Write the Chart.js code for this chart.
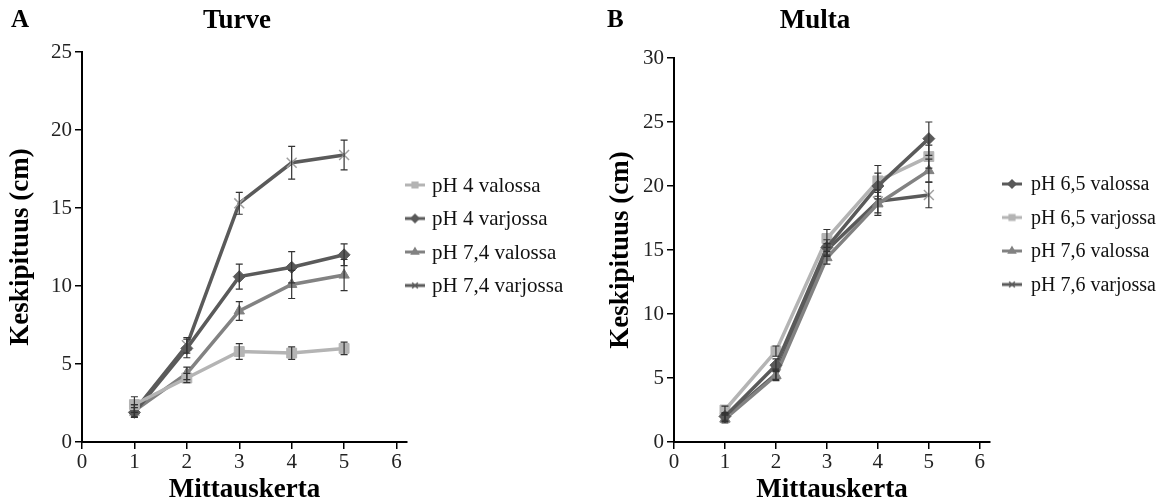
<!DOCTYPE html>
<html lang="fi">
<head>
<meta charset="UTF-8">
<title>Turve ja Multa</title>
<script src="https://cdn.jsdelivr.net/npm/chart.js"></script>
<style>
    body { margin: 0; background: #fff; }
    #wrap { position: relative; width: 1174px; height: 502px; }
    .panel { position: absolute; top: 0; width: 587px; height: 502px; }
</style>
</head>
<body>
<div id="wrap">
    <div class="panel" style="left:0"><canvas id="turve"></canvas></div>
    <div class="panel" style="left:587px"><canvas id="multa"></canvas></div>
</div>
<script>
// mittauskerrat
const mittaukset = [1, 2, 3, 4, 5];
const xTicks = [0, 1, 2, 3, 4, 5, 6];

// A: Turve
const turveNimet = ['pH 4 valossa', 'pH 4 varjossa', 'pH 7,4 valossa', 'pH 7,4 varjossa'];
const turvePh4Valossa = [2.4, 4.1, 5.8, 5.7, 6.0];
const turvePh4ValossaVirhe = [0.5, 0.3, 0.5, 0.4, 0.4];
const turvePh4Varjossa = [1.9, 6.0, 10.6, 11.2, 12.0];
const turvePh4VarjossaVirhe = [0.3, 0.6, 0.8, 1.0, 0.7];
const turvePh74Valossa = [2.0, 4.4, 8.4, 10.1, 10.7];
const turvePh74ValossaVirhe = [0.4, 0.4, 0.6, 0.9, 1.0];
const turvePh74Varjossa = [2.0, 6.2, 15.3, 17.9, 18.4];
const turvePh74VarjossaVirhe = [0.4, 0.5, 0.7, 1.05, 0.95];
const turveYTicks = [0, 5, 10, 15, 20, 25];

// B: Multa
const multaNimet = ['pH 6,5 valossa', 'pH 6,5 varjossa', 'pH 7,6 valossa', 'pH 7,6 varjossa'];
const multaPh65Valossa = [2.0, 6.0, 15.2, 20.0, 23.7];
const multaPh65ValossaVirhe = [0.3, 0.5, 0.6, 1.0, 1.3];
const multaPh65Varjossa = [2.5, 7.1, 15.9, 20.4, 22.3];
const multaPh65VarjossaVirhe = [0.3, 0.4, 0.7, 1.2, 0.9];
const multaPh76Valossa = [1.8, 5.2, 14.4, 18.6, 21.2];
const multaPh76ValossaVirhe = [0.3, 0.4, 0.5, 0.9, 0.9];
const multaPh76Varjossa = [1.9, 5.3, 15.0, 18.8, 19.3];
const multaPh76VarjossaVirhe = [0.3, 0.4, 0.5, 0.9, 1.0];
const multaYTicks = [0, 5, 10, 15, 20, 25, 30];

const FONT = "'Liberation Serif', 'Times New Roman', serif";
const VAALEA = '#b4b4b4';
const KESKI = '#828282';
const TUMMA = '#5a5a5a';

// legendan merkki: viiva + pistetyyli
function legendaMerkki(vari, tyyli) {
    const c = document.createElement('canvas');
    c.width = 20; c.height = 12;
    const g = c.getContext('2d');
    g.strokeStyle = vari; g.lineWidth = 3;
    g.beginPath(); g.moveTo(0, 6); g.lineTo(20, 6); g.stroke();
    g.fillStyle = vari;
    g.lineWidth = 1.5;
    Chart.helpers.drawPoint(g, { pointStyle: tyyli, radius: 4, rotation: 0, borderWidth: 1.5 }, 10, 6);
    return c;
}

function sarja(nimi, data, virhe, vari, tyyli, merkkiVari) {
    const risti = tyyli === 'crossRot';
    return {
        label: nimi,
        data: mittaukset.map((x, i) => ({ x: x, y: data[i] })),
        virhe: virhe,
        borderColor: vari,
        backgroundColor: vari,
        pointBorderColor: merkkiVari || vari,
        pointBackgroundColor: vari,
        pointStyle: tyyli,
        pointRadius: risti ? 7 : (tyyli === 'rect' ? 7 : 6),
        pointBorderWidth: risti ? 1.5 : 1,
        borderWidth: 3.5,
        legendaKuva: legendaMerkki(vari, tyyli),
        tension: 0
    };
}

// virhepalkit skaalan kautta
const virhePalkit = {
    id: 'virhePalkit',
    afterDatasetsDraw(chart) {
        const ctx = chart.ctx;
        const y = chart.scales.y;
        ctx.save();
        ctx.strokeStyle = '#333';
        ctx.lineWidth = 1.2;
        chart.data.datasets.forEach((ds, di) => {
            const meta = chart.getDatasetMeta(di);
            meta.data.forEach((p, i) => {
                const v = ds.data[i].y, e = ds.virhe[i];
                const y1 = y.getPixelForValue(v + e), y2 = y.getPixelForValue(v - e);
                ctx.beginPath();
                ctx.moveTo(p.x, y1); ctx.lineTo(p.x, y2);
                ctx.moveTo(p.x - 3.5, y1); ctx.lineTo(p.x + 3.5, y1);
                ctx.moveTo(p.x - 3.5, y2); ctx.lineTo(p.x + 3.5, y2);
                ctx.stroke();
            });
        });
        ctx.restore();
    }
};

// kirjain, otsikko ja selite
const koristeet = {
    id: 'koristeet',
    afterDraw(chart, args, o) {
        const ctx = chart.ctx;
        ctx.save();
        ctx.fillStyle = '#000';
        ctx.textBaseline = 'middle';
        ctx.font = 'bold 25px ' + FONT;
        ctx.fillText(o.kirjain, o.kirjainX, 21);
        ctx.textAlign = 'center';
        ctx.font = 'bold 27px ' + FONT;
        ctx.fillText(o.otsikko, o.otsikkoX, 21);
        ctx.textAlign = 'left';
        ctx.font = o.seliteKoko + 'px ' + FONT;
        ctx.fillStyle = '#111';
        chart.data.datasets.forEach((ds, i) => {
            const yy = o.seliteY + i * 33.5;
            ctx.drawImage(ds.legendaKuva, o.seliteX, yy - 6);
            ctx.fillText(ds.label, o.seliteX + o.tekstiVali, yy + 1);
        });
        ctx.restore();
    }
};

function piirra(id, k, datasets, yMax, yTicks) {
    new Chart(document.getElementById(id), {
        type: 'line',
        data: { datasets: datasets },
        plugins: [virhePalkit, koristeet],
        options: {
            responsive: true,
            maintainAspectRatio: false,
            animation: false,
            layout: { padding: { left: k.vasen, right: k.oikea, top: k.yla, bottom: -2 } },
            plugins: {
                koristeet: k,
                legend: { display: false },
                title: { display: false },
                tooltip: { enabled: false }
            },
            scales: {
                x: {
                    type: 'linear',
                    min: 0,
                    max: 6.2,
                    afterBuildTicks(ax) { ax.ticks = xTicks.map(v => ({ value: v })); },
                    grid: { drawOnChartArea: false, drawTicks: true, tickLength: 7, color: '#000', lineWidth: 1.5 },
                    border: { color: '#000', width: 2 },
                    ticks: { color: '#222', font: { family: FONT, size: 21, lineHeight: 1 }, padding: 3, maxRotation: 0 },
                    title: { display: true, text: 'Mittauskerta', color: '#000', font: { family: FONT, size: 27, weight: 'bold', lineHeight: 1 }, padding: { top: 1, bottom: 0 } }
                },
                y: {
                    min: 0,
                    max: yMax,
                    afterBuildTicks(ax) { ax.ticks = yTicks.map(v => ({ value: v })); },
                    grid: { drawOnChartArea: false, drawTicks: true, tickLength: 7, color: '#000', lineWidth: 1.5 },
                    border: { color: '#000', width: 2 },
                    ticks: { color: '#222', font: { family: FONT, size: 21, lineHeight: 1 }, padding: 3 },
                    title: { display: true, text: 'Keskipituus (cm)', color: '#000', font: { family: FONT, size: 27, weight: 'bold', lineHeight: 1 }, padding: { top: 0, bottom: k.otsikkoVali } }
                }
            }
        }
    });
}

piirra('turve', {
    kirjain: 'A', kirjainX: 11, otsikko: 'Turve', otsikkoX: 237,
    seliteX: 405, seliteY: 185, tekstiVali: 27, seliteKoko: 21,
    vasen: 8, oikea: 180, yla: 52, otsikkoVali: 13
}, [
    sarja(turveNimet[0], turvePh4Valossa, turvePh4ValossaVirhe, VAALEA, 'rect'),
    sarja(turveNimet[1], turvePh4Varjossa, turvePh4VarjossaVirhe, TUMMA, 'rectRot'),
    sarja(turveNimet[2], turvePh74Valossa, turvePh74ValossaVirhe, KESKI, 'triangle'),
    sarja(turveNimet[3], turvePh74Varjossa, turvePh74VarjossaVirhe, TUMMA, 'crossRot', '#a0a0a0')
], 25, turveYTicks);

piirra('multa', {
    kirjain: 'B', kirjainX: 20, otsikko: 'Multa', otsikkoX: 228,
    seliteX: 415, seliteY: 184, tekstiVali: 29, seliteKoko: 20,
    vasen: 21, oikea: 184, yla: 58, otsikkoVali: 5
}, [
    sarja(multaNimet[0], multaPh65Valossa, multaPh65ValossaVirhe, TUMMA, 'rectRot'),
    sarja(multaNimet[1], multaPh65Varjossa, multaPh65VarjossaVirhe, VAALEA, 'rect'),
    sarja(multaNimet[2], multaPh76Valossa, multaPh76ValossaVirhe, KESKI, 'triangle'),
    sarja(multaNimet[3], multaPh76Varjossa, multaPh76VarjossaVirhe, TUMMA, 'crossRot', '#a0a0a0')
], 30, multaYTicks);
</script>
</body>
</html>
